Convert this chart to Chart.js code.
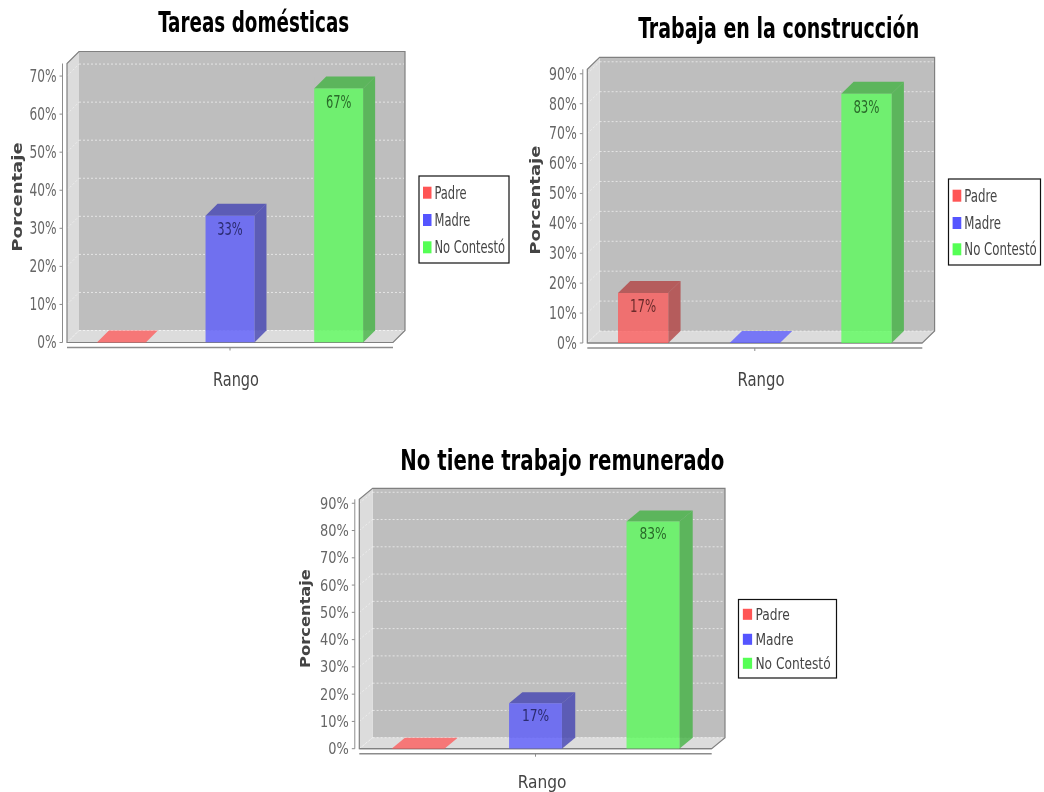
<!DOCTYPE html>
<html lang="es">
<head>
    <meta charset="UTF-8">
    <title>Rango por actividad</title>
    <style>
        body { margin: 0; background: #fff; }
        canvas { position: absolute; filter: blur(0.4px); }
    </style>
    <script src="https://cdn.jsdelivr.net/npm/chart.js"></script>
</head>
<body>
    <canvas id="c1"></canvas>
    <canvas id="c2"></canvas>
    <canvas id="c3"></canvas>

    <script>
        const categories = [''];
        const seriesNames = ['Padre', 'Madre', 'No Contestó'];
        const tareasValues = [0, 33.3, 66.7];
        const construccionValues = [16.7, 0, 83.3];
        const remuneradoValues = [0, 16.7, 83.3];

        const frontColors = ['rgba(255,85,85,0.75)', 'rgba(85,85,255,0.75)', 'rgba(85,255,85,0.75)'];
        const sideColors = ['rgba(178,59,59,0.75)', 'rgba(59,59,178,0.75)', 'rgba(59,178,59,0.75)'];
        const swatchColors = ['#ff5555', '#5555ff', '#55ff55'];
        const labelColors = ['#6b2b2b', '#2b2b70', '#2a6a2a'];

        const condensed = '"DejaVu Sans Condensed", sans-serif';

        // everything below is in page pixels, the canvas offset gets taken off later.
        // the source picture is squashed differently per chart: sq is the sideways
        // squeeze of the small text, sy scales its font size
        const charts = [
            {
                id: 'c1', title: 'Tareas domésticas', values: tareasValues, max: 73.3,
                canvas: [0, 0, 520, 400], plot: [67, 63.5, 393, 342.5], dx: 12, dy: 12,
                sq: 0.75, sy: 1, rangoSq: 0.85, yTitleSize: 18, yTitleSq: 0.75,
                titleX: 253.7, titleW: 191, titleY: 24, yTitleX: 18, xTitleY: 381,
                legend: [419, 176, 90, 87], rows: [192.7, 220, 247.3]
            },
            {
                id: 'c2', title: 'Trabaja en la construcción', values: construccionValues, max: 91.5,
                canvas: [520, 0, 524, 400], plot: [587.3, 69.3, 922.3, 343], dx: 12.3, dy: 12,
                sq: 0.77, sy: 1, rangoSq: 0.87, yTitleSize: 18, yTitleSq: 0.75,
                titleX: 778.7, titleW: 281, titleY: 30, yTitleX: 536, xTitleY: 381,
                legend: [948.5, 179, 92, 86], rows: [195.7, 223, 249.3]
            },
            {
                id: 'c3', title: 'No tiene trabajo remunerado', values: remuneradoValues, max: 91.45,
                canvas: [290, 440, 560, 352], plot: [359.3, 499.3, 711.7, 748.7], dx: 13.3, dy: 11,
                sq: 0.87, sy: 0.92, rangoSq: 0.98, yTitleSize: 16.3, yTitleSq: 0.83,
                titleX: 562.3, titleW: 324, titleY: 462, yTitleX: 306, xTitleY: 783,
                legend: [738.5, 599.5, 98, 78.5], rows: [614.3, 639.3, 663.3]
            }
        ];

        function poly(ctx, pts, fill, stroke) {
            ctx.beginPath();
            pts.forEach((p, i) => i ? ctx.lineTo(p[0], p[1]) : ctx.moveTo(p[0], p[1]));
            ctx.closePath();
            if (fill) { ctx.fillStyle = fill; ctx.fill(); }
            if (stroke) { ctx.strokeStyle = stroke; ctx.stroke(); }
        }

        function line(ctx, x1, y1, x2, y2) {
            ctx.beginPath();
            ctx.moveTo(x1, y1);
            ctx.lineTo(x2, y2);
            ctx.stroke();
        }

        // wrap a scale draw method so it runs squeezed around x and shifted
        function wrapDraw(scale, name, centerX, ratio, shiftX, shiftY) {
            const orig = scale[name];
            scale[name] = function (...args) {
                const ctx = this.ctx;
                ctx.save();
                ctx.translate(centerX + shiftX, shiftY);
                ctx.scale(ratio, 1);
                ctx.translate(-centerX, 0);
                orig.apply(this, args);
                ctx.restore();
            };
        }

        // walls, gridlines and axes of the fake 3d box
        function drawBox(chart, cfg) {
            const ctx = chart.ctx, a = chart.chartArea, dx = cfg.dx, dy = cfg.dy;
            const yScale = chart.scales.y;
            const L = a.left, R = a.right, T = a.top, B = a.bottom;
            ctx.save();
            poly(ctx, [[L + dx, T - dy], [R + dx, T - dy], [R + dx, B - dy], [L + dx, B - dy]], '#bebebe');
            poly(ctx, [[L, B], [L, T], [L + dx, T - dy], [L + dx, B - dy]], '#dcdcdc');
            poly(ctx, [[L, B], [L + dx, B - dy], [R + dx, B - dy], [R, B]], '#dcdcdc');

            ctx.lineWidth = 1;
            ctx.setLineDash([2, 2]);
            yScale.ticks.forEach(t => {
                const y = yScale.getPixelForValue(t.value);
                ctx.strokeStyle = 'rgba(255,255,255,0.6)';
                line(ctx, L + dx, y - dy, R + dx - 1, y - dy);
                ctx.strokeStyle = 'rgba(255,255,255,0.45)';
                line(ctx, L, y, L + dx, y - dy);
            });
            ctx.setLineDash([]);

            // gridlines do not show through the bars
            chart.data.datasets.forEach((ds, i) => {
                const bar = chart.getDatasetMeta(i).data[0];
                if (ds.data[0] === 0) return;
                const l = bar.x - bar.width / 2;
                ctx.fillStyle = '#bebebe';
                ctx.fillRect(l, bar.y - dy, bar.width + dx, B - bar.y);
            });

            ctx.lineWidth = 1.2;
            poly(ctx, [[L, B], [L, T], [L + dx, T - dy], [R + dx, T - dy], [R + dx, B - dy], [R, B]], null, '#808080');
            line(ctx, L, B, R, B);

            // axes sit a bit away from the box
            ctx.strokeStyle = '#8c8c8c';
            ctx.lineWidth = 1;
            line(ctx, L - 4.5, T, L - 4.5, B);
            yScale.ticks.forEach(t => {
                const y = yScale.getPixelForValue(t.value);
                line(ctx, L - 7.5, y, L - 4.5, y);
            });
            ctx.lineWidth = 1.5;
            line(ctx, L, B + 5, R, B + 5);
            ctx.lineWidth = 1;
            line(ctx, (L + R) / 2, B + 5, (L + R) / 2, B + 8);
            ctx.restore();
        }

        // top and side faces of the bars, read from the bar elements
        function drawFaces(chart, cfg) {
            const ctx = chart.ctx, dx = cfg.dx, dy = cfg.dy;
            ctx.save();
            chart.data.datasets.forEach((ds, i) => {
                const bar = chart.getDatasetMeta(i).data[0];
                const l = bar.x - bar.width / 2, r = bar.x + bar.width / 2;
                const flat = ds.data[0] === 0;
                poly(ctx, [[l, bar.y], [l + dx, bar.y - dy], [r + dx, bar.y - dy], [r, bar.y]], flat ? frontColors[i] : sideColors[i]);
                if (!flat) {
                    poly(ctx, [[r, bar.y], [r + dx, bar.y - dy], [r + dx, bar.base - dy], [r, bar.base]], sideColors[i]);
                }
            });
            ctx.restore();
        }

        function squeezedText(ctx, text, x, y, ratio) {
            ctx.fillText(text, x, y, ctx.measureText(text).width * ratio);
        }

        function drawValueLabels(chart, cfg) {
            const ctx = chart.ctx;
            ctx.save();
            ctx.font = (17 * cfg.sy) + 'px ' + condensed;
            ctx.textAlign = 'center';
            ctx.textBaseline = 'middle';
            chart.data.datasets.forEach((ds, i) => {
                if (ds.data[0] === 0) return;
                const bar = chart.getDatasetMeta(i).data[0];
                ctx.fillStyle = labelColors[i];
                squeezedText(ctx, Math.round(ds.data[0]) + '%', bar.x, bar.y + 14.5 * cfg.sy, cfg.sq);
            });
            ctx.restore();
        }

        function drawLegend(chart, cfg) {
            const ctx = chart.ctx, ox = cfg.canvas[0], oy = cfg.canvas[1], b = cfg.legend;
            const k = b[2] / 90;
            ctx.save();
            ctx.fillStyle = '#fff';
            ctx.fillRect(b[0] - ox, b[1] - oy, b[2], b[3]);
            ctx.strokeStyle = '#111';
            ctx.lineWidth = 1.2;
            ctx.strokeRect(b[0] - ox, b[1] - oy, b[2], b[3]);
            ctx.font = (17 * cfg.sy) + 'px ' + condensed;
            ctx.textBaseline = 'middle';
            seriesNames.forEach((name, i) => {
                const y = cfg.rows[i] - oy;
                ctx.fillStyle = swatchColors[i];
                ctx.fillRect(b[0] - ox + 4 * k, y - 6 * cfg.sy, 8.5 * k, 12 * cfg.sy);
                ctx.fillStyle = '#444';
                squeezedText(ctx, name, b[0] - ox + 15.5 * k, y + 1.7, cfg.sq);
            });
            ctx.restore();
        }

        charts.forEach(cfg => {
            const [cx, cy, cw, ch] = cfg.canvas;
            const [pl, pt, pr, pb] = cfg.plot;
            const canvas = document.getElementById(cfg.id);
            canvas.style.left = cx + 'px';
            canvas.style.top = cy + 'px';
            canvas.width = cw;
            canvas.height = ch;

            const titleSize = 29;
            const titleTop = cfg.titleY - cy - titleSize / 2;
            const rangoSize = 19 * cfg.sy;

            new Chart(canvas, {
                type: 'bar',
                data: {
                    labels: categories,
                    datasets: seriesNames.map((name, i) => ({
                        label: name,
                        data: [cfg.values[i]],
                        backgroundColor: frontColors[i],
                        borderWidth: 0,
                        barPercentage: 0.45,
                        categoryPercentage: 1
                    }))
                },
                options: {
                    responsive: false,
                    animation: false,
                    layout: { padding: { left: 0, right: cw - (pr - cx), top: 0, bottom: 0 } },
                    plugins: {
                        legend: { display: false },
                        tooltip: { enabled: false },
                        title: {
                            display: true,
                            text: cfg.title,
                            color: '#000',
                            font: { family: condensed, size: titleSize, weight: 'bold', lineHeight: 1 },
                            padding: { top: titleTop, bottom: pt - cy - titleTop - titleSize }
                        }
                    },
                    scales: {
                        x: {
                            grid: { display: false },
                            border: { display: false },
                            ticks: { display: false },
                            title: {
                                display: true,
                                text: 'Rango',
                                color: '#444',
                                font: { family: condensed, size: rangoSize, lineHeight: 1 },
                                padding: { top: 0, bottom: ch - (cfg.xTitleY - cy) - rangoSize / 2 }
                            },
                            afterFit: s => { s.height = ch - (pb - cy); }
                        },
                        y: {
                            min: 0,
                            max: cfg.max,
                            grid: { display: false, drawTicks: false },
                            border: { display: false },
                            ticks: {
                                stepSize: 10,
                                includeBounds: false,
                                padding: 10.5,
                                color: '#666',
                                font: { family: condensed, size: 18 * cfg.sy },
                                callback: v => v + '%'
                            },
                            title: {
                                display: true,
                                text: 'Porcentaje',
                                color: '#444',
                                font: { family: '"DejaVu Sans"', size: cfg.yTitleSize, weight: 'bold', lineHeight: 1 },
                                padding: { top: cfg.yTitleX - cx - cfg.yTitleSize / 2, bottom: 0 }
                            },
                            afterFit: s => { s.width = pl - cx; }
                        }
                    }
                },
                plugins: [{
                    id: 'box3d',
                    afterLayout(chart) {
                        // titles are centred on the whole 3d box, not on the front face
                        const t = chart.titleBlock;
                        t.left = cfg.titleX - cx - cfg.titleW / 2;
                        t.right = cfg.titleX - cx + cfg.titleW / 2;
                        const sx = chart.scales.x, sy = chart.scales.y;
                        if (!sx._wrapped) {
                            sx._wrapped = true;
                            wrapDraw(sx, 'drawTitle', (pl + pr) / 2 - cx, cfg.rangoSq, cfg.dx / 2, 0);
                            wrapDraw(sy, 'drawTitle', cfg.yTitleX - cx, cfg.yTitleSq, 0, -cfg.dy / 2);
                            wrapDraw(sy, 'drawLabels', pl - cx - 10.5, cfg.sq, 0, 1.2);
                        }
                    },
                    beforeDatasetsDraw(chart) {
                        drawBox(chart, cfg);
                        drawFaces(chart, cfg);
                    },
                    afterDatasetsDraw(chart) {
                        drawValueLabels(chart, cfg);
                        drawLegend(chart, cfg);
                    }
                }]
            });
        });
    </script>
</body>
</html>
